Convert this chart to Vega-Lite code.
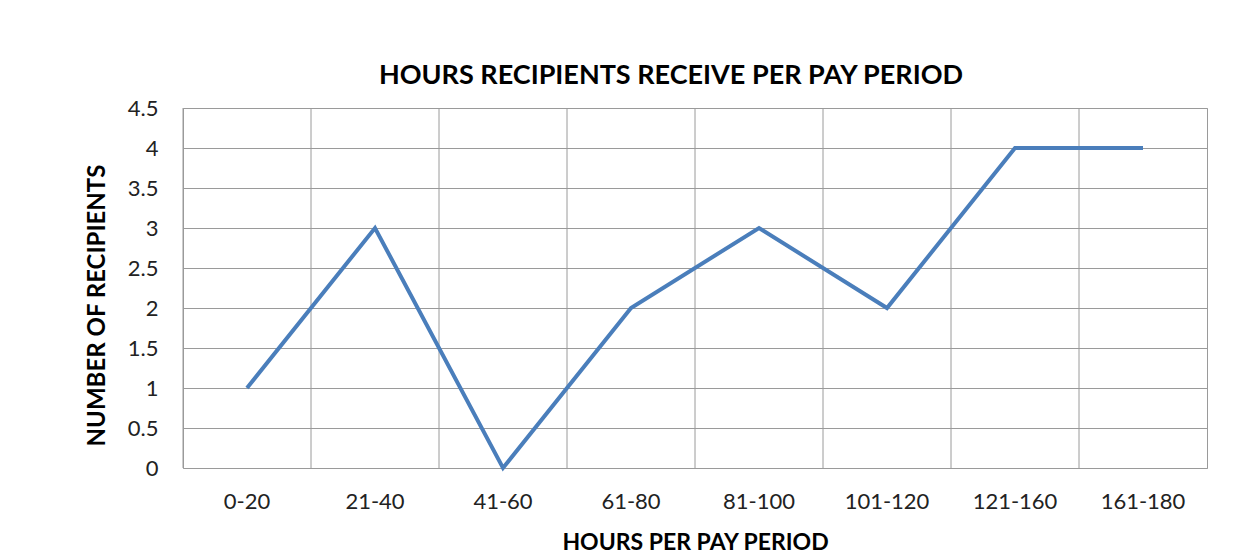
{
  "$schema": "https://vega.github.io/schema/vega-lite/v6.json",
  "autosize": {"type": "none"},
  "width": 1024,
  "height": 360,
  "padding": {"left": 183, "top": 108, "right": 46, "bottom": 92},
  "background": "white",
  "title": {
    "text": "HOURS RECIPIENTS RECEIVE PER PAY PERIOD",
    "font": "Lato",
    "fontSize": 27,
    "fontWeight": "bold",
    "color": "#000000",
    "anchor": "middle",
    "dx": -24,
    "offset": 7,
    "limit": 0
  },
  "config": {
    "view": {"stroke": "#9a9a9a", "strokeWidth": 1},
    "axis": {
      "labelFont": "Lato",
      "labelFontSize": 22,
      "labelColor": "#222222",
      "titleFont": "Lato",
      "titleFontWeight": "bold",
      "titleColor": "#000000",
      "domain": false,
      "ticks": false,
      "tickSize": 0
    }
  },
  "data": {
    "values": [
      {"hours": "0-20", "recipients": 1},
      {"hours": "21-40", "recipients": 3},
      {"hours": "41-60", "recipients": 0},
      {"hours": "61-80", "recipients": 2},
      {"hours": "81-100", "recipients": 3},
      {"hours": "101-120", "recipients": 2},
      {"hours": "121-160", "recipients": 4},
      {"hours": "161-180", "recipients": 4}
    ]
  },
  "encoding": {
    "x": {
      "field": "hours",
      "type": "nominal",
      "sort": null,
      "scale": {"paddingInner": 0, "paddingOuter": 0},
      "axis": {
        "title": "HOURS PER PAY PERIOD",
        "titleFontSize": 23,
        "labelAngle": 0,
        "labelPadding": 23,
        "titlePadding": 19,
        "grid": false
      }
    }
  },
  "layer": [
    {
      "mark": {"type": "rule", "color": "#9a9a9a", "strokeWidth": 1},
      "encoding": {
        "x": {"field": "hours", "type": "nominal", "sort": null, "bandPosition": 0}
      }
    },
    {
      "mark": {"type": "line", "color": "#4a7ebb", "strokeWidth": 4},
      "encoding": {
        "y": {
          "field": "recipients",
          "type": "quantitative",
          "scale": {"domain": [0, 4.5], "nice": false},
          "axis": {
            "title": "NUMBER OF RECIPIENTS",
            "titleFontSize": 24,
            "values": [0, 0.5, 1, 1.5, 2, 2.5, 3, 3.5, 4, 4.5],
            "format": "~g",
            "labelPadding": 25,
            "titlePadding": 18,
            "titleY": 197,
            "grid": true,
            "gridColor": "#9a9a9a",
            "gridWidth": 1,
            "gridOpacity": 1
          }
        }
      }
    }
  ]
}
